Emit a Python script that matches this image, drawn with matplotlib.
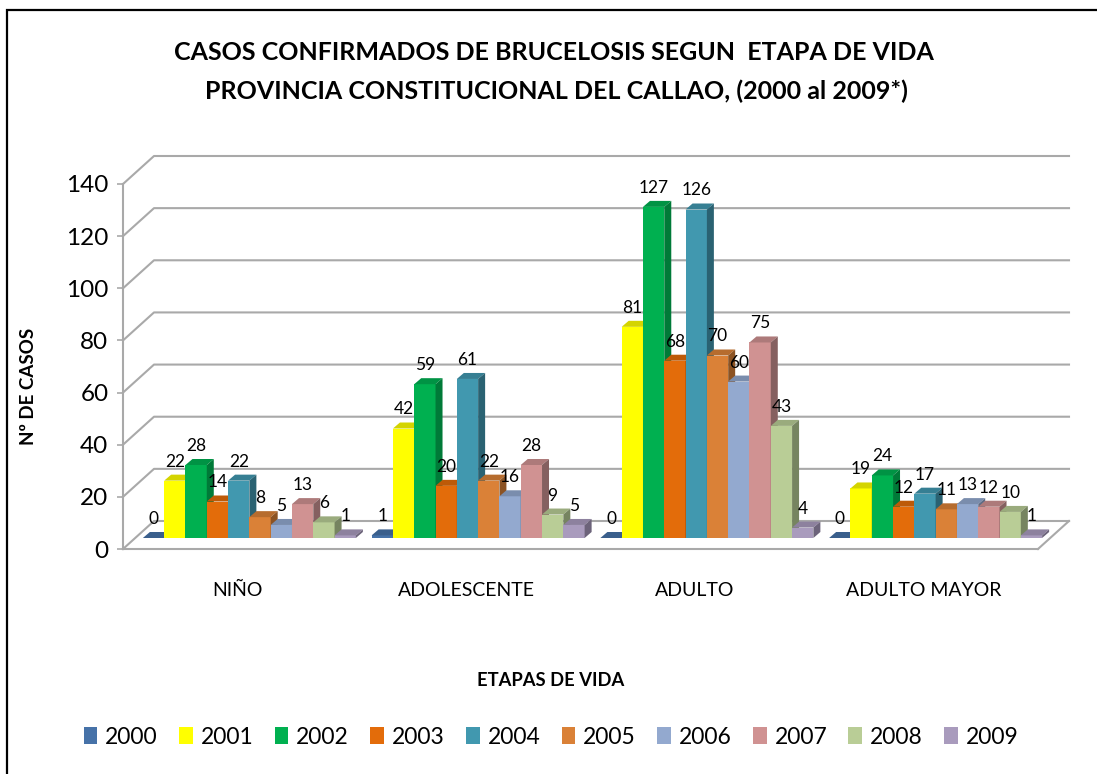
import matplotlib
matplotlib.use("Agg")
import matplotlib.pyplot as plt
from matplotlib.lines import Line2D
from matplotlib.patches import Patch, Polygon

# Data
categories = ["NIÑO", "ADOLESCENTE", "ADULTO", "ADULTO MAYOR"]
years = ["2000", "2001", "2002", "2003", "2004", "2005", "2006", "2007", "2008", "2009"]
nino = [0, 22, 28, 14, 22, 8, 5, 13, 6, 1]
adolescente = [1, 42, 59, 20, 61, 22, 16, 28, 9, 5]
adulto = [0, 81, 127, 68, 126, 70, 60, 75, 43, 4]
adulto_mayor = [0, 19, 24, 12, 17, 11, 13, 12, 10, 1]
y_ticks = [0, 20, 40, 60, 80, 100, 120, 140]

# Face colours (front, top, side)
front = ["#4672a8", "#ffff00", "#00b050", "#e36c0a", "#4198af",
         "#da8137", "#93a9cf", "#d09292", "#b9cd96", "#a99bbd"]
top = ["#3a5f8c", "#d4d400", "#009344", "#bd5a08", "#367f93",
       "#b66c2e", "#7a8dad", "#ad7a7a", "#9aab7d", "#8d819e"]
side = ["#2c4a6c", "#a3a300", "#007a38", "#914506", "#2a6272",
        "#8c5323", "#5e6c85", "#856060", "#768460", "#6c637a"]

W, H = 1097, 774
GRID = "#a9a9a9"
plt.rcParams["font.family"] = ["Lato", "DejaVu Sans"]

fig = plt.figure(figsize=(W / 100, H / 100), dpi=100, facecolor="white")

# outer frame, only left and top are inside the picture
fig.add_artist(Line2D([7 / W, 7 / W, 1], [0, 1 - 10 / H, 1 - 10 / H], transform=fig.transFigure,
                      color="black", linewidth=1.6, solid_joinstyle="miter"))

# front plane of the fake 3D box
ax = fig.add_axes([123 / W, 1 - 549 / H, 915 / W, 365 / H])
ax.set_xlim(0, len(categories))
ax.set_ylim(0, 140)
ax.patch.set_visible(False)

# pixel sizes in data units
px = len(categories) / 915
py = 140 / 365

wall_dx, wall_dy = 31 * px, 28 * py
bar_dx, bar_dy = 7 * px, 6 * py
base_x, base_y = 12 * px, 11 * py
bar_w = 21.3 * px

# back wall grid and the side wall diagonals
for t in y_ticks:
    ax.plot([0, wall_dx, len(categories) + wall_dx], [t, t + wall_dy, t + wall_dy],
            color=GRID, lw=1.5, clip_on=False, zorder=1)
ax.plot([len(categories), len(categories) + wall_dx], [0, wall_dy],
        color=GRID, lw=1.5, clip_on=False, zorder=1)

# bars
all_values = [nino, adolescente, adulto, adulto_mayor]
z = 3
for c, values in enumerate(all_values):
    start = c + 0.5 + base_x - bar_w * len(years) / 2
    for i, v in enumerate(values):
        x0 = start + i * bar_w
        x1 = x0 + bar_w
        y1 = base_y + v
        ax.bar(x0, v, width=bar_w, bottom=base_y, align="edge", color=front[i],
               clip_on=False, zorder=z)
        ax.add_patch(Polygon([(x0, y1), (x1, y1), (x1 + bar_dx, y1 + bar_dy), (x0 + bar_dx, y1 + bar_dy)],
                             closed=True, facecolor=top[i], edgecolor="none", clip_on=False, zorder=z))
        ax.add_patch(Polygon([(x1, base_y), (x1 + bar_dx, base_y + bar_dy), (x1 + bar_dx, y1 + bar_dy), (x1, y1)],
                             closed=True, facecolor=side[i], edgecolor="none", clip_on=False, zorder=z))
        ax.annotate(str(v), (x0 + bar_w / 2, y1), xytext=(0, 13.7), textcoords="offset points",
                    ha="center", va="center", fontsize=12.5, color="black", zorder=100)
        z += 1

# axes
for s in ["top", "right"]:
    ax.spines[s].set_visible(False)
for s in ["left", "bottom"]:
    ax.spines[s].set_color(GRID)
    ax.spines[s].set_linewidth(1.5)
ax.set_yticks(y_ticks)
ax.tick_params(axis="y", length=4.5, width=1.2, color=GRID, labelsize=17.5, pad=6)
ax.set_xticks([c + 0.5 for c in range(len(categories))])
ax.set_xticklabels(categories)
ax.tick_params(axis="x", length=0, labelsize=14, pad=24)

# titles
fig.text(554 / W, 1 - 52 / H, "CASOS CONFIRMADOS DE BRUCELOSIS SEGUN  ETAPA DE VIDA",
         ha="center", va="center", fontsize=18, fontweight="bold")
fig.text(556 / W, 1 - 91 / H, "PROVINCIA CONSTITUCIONAL DEL CALLAO, (2000 al 2009*)",
         ha="center", va="center", fontsize=18, fontweight="bold")
fig.text(551 / W, 1 - 680 / H, "ETAPAS DE VIDA", ha="center", va="center", fontsize=13.2, fontweight="bold")
fig.text(28 / W, 1 - 386 / H, "Nº DE CASOS", ha="center", va="center", rotation=90,
         fontsize=13.5, fontweight="bold")

# legend
handles = [Patch(facecolor=front[i], edgecolor="none", label=y) for i, y in enumerate(years)]
fig.legend(handles=handles, ncol=10, frameon=False, fontsize=16.5, loc="center",
           bbox_to_anchor=(551 / W, 1 - 737 / H), handlelength=0.6, handleheight=0.78,
           handletextpad=0.34, columnspacing=0.93, borderpad=0, borderaxespad=0)

fig.savefig("out.png", dpi=100, facecolor="white")
